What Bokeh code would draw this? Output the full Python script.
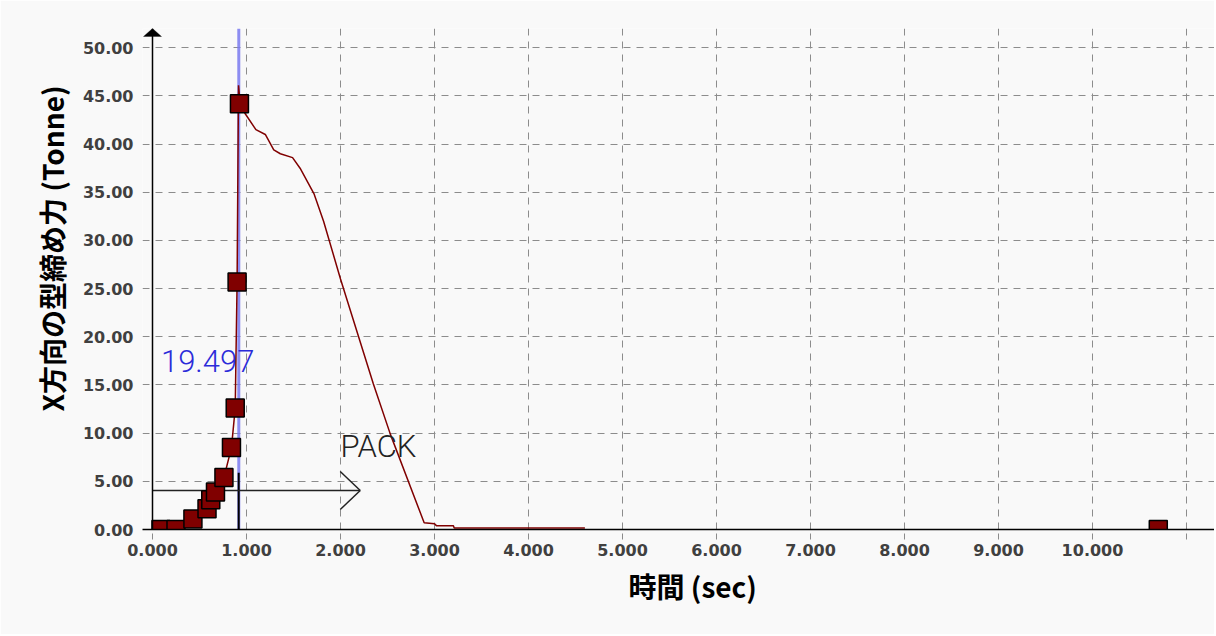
from bokeh.plotting import figure
from bokeh.models import Span, Label, Title, FixedTicker, NumeralTickFormatter, PolyAnnotation
from bokeh.embed import file_html
from bokeh.resources import INLINE

# ---- data ----
curve_t = [0.00, 0.03, 0.10, 0.25, 0.43, 0.58, 0.62, 0.67, 0.76, 0.84, 0.88, 0.90,
           0.915, 0.935, 0.99, 1.10, 1.20, 1.29, 1.36, 1.49, 1.57, 1.72, 1.82,
           2.00, 2.35, 2.53, 2.89, 3.00, 3.02, 3.20, 3.21, 4.60]
curve_f = [0.0, 0.0, 0.05, 0.1, 1.1, 2.15, 3.1, 3.9, 5.4, 8.5, 12.6, 25.7,
           46.1, 44.0, 43.1, 41.5, 41.0, 39.4, 39.0, 38.6, 37.5, 34.8, 32.0,
           26.0, 15.1, 9.9, 0.7, 0.6, 0.4, 0.4, 0.15, 0.15]

marker_t = [0.09, 0.25, 0.43, 0.58, 0.62, 0.67, 0.76, 0.84, 0.88, 0.90, 0.925, 10.70]
marker_f = [0.0, 0.0, 1.1, 2.15, 3.1, 3.9, 5.4, 8.5, 12.6, 25.7, 44.2, 0.0]

x_ticks = [0, 1, 2, 3, 4, 5, 6, 7, 8, 9, 10, 11]
y_ticks = [0, 5, 10, 15, 20, 25, 30, 35, 40, 45, 50]

cursor_t = 0.918
cursor_text = "19.497"
cursor_text_pos = (0.09, 17.5)

switch_t = 0.917
switch_top = 5.9

pack_force = 4.05
pack_t_end = 2.21
pack_text = "PACK"
pack_text_pos = (2.0, 8.6)

x_title = "時間 (sec)"
y_title = "X方向の型締め力 (Tonne)"

X_MIN = -10 / 94.0
X_MAX = 11.298
Y_MAX = 52.0
PX_PER_X = 94.0
PX_PER_Y = 9.63

BG = "#f9f9f9"
DARK_RED = "#800000"
GRID = "#8c8c8c"
THIN = "'Roboto Light', 'Liberation Sans', sans-serif"

p = figure(width=1214, height=634, x_range=(X_MIN, X_MAX), y_range=(0, Y_MAX),
           output_backend="svg", toolbar_location=None,
           min_border_left=142, min_border_right=0, min_border_top=28, min_border_bottom=105,
           background_fill_color=BG, border_fill_color=BG, outline_line_color=None)

# axes
p.xaxis.ticker = FixedTicker(ticks=x_ticks)
p.yaxis.ticker = FixedTicker(ticks=y_ticks)
p.xaxis.formatter = NumeralTickFormatter(format="0.000")
p.yaxis.formatter = NumeralTickFormatter(format="0.00")
p.xaxis.major_label_overrides = {11: ""}
for ax in (p.xaxis, p.yaxis):
    ax.axis_line_color = "black"
    ax.axis_line_width = 1.5
    ax.major_tick_out = 10
    ax.major_tick_in = 0
    ax.major_tick_line_color = GRID
    ax.major_tick_line_dash = "6 4"
    ax.minor_tick_line_color = None
    ax.major_label_text_font = "DejaVu Sans"
    ax.major_label_text_font_style = "bold"
    ax.major_label_text_font_size = "16px"
    ax.major_label_text_color = "#404040"
# the y axis line is drawn at x = 0 inside the frame; grid lines run past it like ticks
p.yaxis.axis_line_color = None
p.yaxis.major_tick_out = 0
p.yaxis.major_label_standoff = 9
p.xaxis.major_label_standoff = 4

for g in (p.xgrid, p.ygrid):
    g.grid_line_color = GRID
    g.grid_line_dash = "7 6"
    g.grid_line_width = 1
p.xgrid.ticker = FixedTicker(ticks=x_ticks)
p.ygrid.ticker = FixedTicker(ticks=y_ticks)

# axis titles (placed off-centre, as in the reference)
p.add_layout(Title(text=y_title, align="right", offset=57, text_font="Noto Sans CJK JP",
                   text_font_style="bold", text_font_size="28px", text_color="black",
                   standoff=15), "left")
p.add_layout(Title(text=x_title, align="left", offset=486, text_font="Noto Sans CJK JP",
                   text_font_style="bold", text_font_size="28px", text_color="black",
                   standoff=10), "below")

# y axis line and arrow head
p.add_layout(Span(location=0, dimension="height", line_color="black", line_width=1.5))
p.add_layout(PolyAnnotation(xs=[143, 152, 161], ys=[36, 28, 36], xs_units="canvas", ys_units="canvas",
                            fill_color="black", fill_alpha=1, line_color="black", line_width=1))

# cursor line
p.add_layout(Span(location=cursor_t, dimension="height", line_color="#7a7af0",
                  line_width=3, line_alpha=0.85, level="underlay"))

# switch marker line
p.segment(x0=[switch_t], y0=[0], x1=[switch_t], y1=[switch_top], line_color="black", line_width=2)

# PACK arrow
dx = 20 / PX_PER_X
dy = 19 / PX_PER_Y
p.segment(x0=[0, pack_t_end - dx, pack_t_end - dx], y0=[pack_force, pack_force + dy, pack_force - dy],
          x1=[pack_t_end, pack_t_end, pack_t_end], y1=[pack_force, pack_force, pack_force],
          line_color="#222222", line_width=1.5)

# curve + markers
p.line(curve_t, curve_f, line_color=DARK_RED, line_width=1.5)
p.scatter(marker_t, marker_f, marker="square", size=18, fill_color=DARK_RED,
          line_color="black", line_width=1.5)

p.add_layout(Label(x=cursor_text_pos[0], y=cursor_text_pos[1], text=cursor_text,
                   text_font=THIN, text_font_size="31px", text_color="#2b2bd9",
                   text_baseline="alphabetic"))
p.add_layout(Label(x=pack_text_pos[0], y=pack_text_pos[1], text=pack_text,
                   text_font=THIN, text_font_size="31px", text_color="#222222",
                   text_baseline="alphabetic"))

open("out.html", "w").write(file_html(p, INLINE))
